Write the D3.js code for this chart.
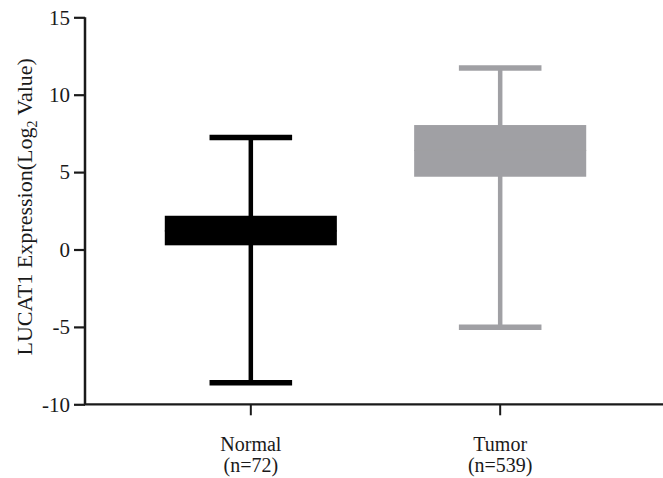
<!DOCTYPE html>
<html>
<head>
<meta charset="utf-8">
<script src="https://cdn.jsdelivr.net/npm/d3@7"></script>
<style>
  html, body { margin: 0; padding: 0; background: #fff; }
  svg { display: block; }
  text { font-family: "Liberation Serif", "Times New Roman", serif; fill: #1a1a1a; }
</style>
</head>
<body>
<svg id="chart" width="663" height="478"></svg>
<script>
const categories = ["Normal", "Tumor"];
const sampleSizes = [72, 539];
const whiskerLow = [-8.6, -5.03];
const quartile1 = [0.27, 4.70];
const medians = [1.2, 6.4];
const quartile3 = [2.18, 8.04];
const whiskerHigh = [7.24, 11.72];
const colors = ["#000000", "#a0a0a4"];
const yTicks = [-10, -5, 0, 5, 10, 15];

const svg = d3.select("#chart");
const axisColor = "#1a1a1a";

const y = d3.scaleLinear().domain([-10, 15]).range([404.3, 17.3]);
const x = d3.scaleBand().domain(categories).range([85, 666]).paddingInner(0.31).paddingOuter(0.32);

const data = categories.map((c, i) => ({
  cat: c, n: sampleSizes[i], lo: whiskerLow[i], q1: quartile1[i],
  med: medians[i], q3: quartile3[i], hi: whiskerHigh[i], color: colors[i]
}));

const bw = x.bandwidth();
const capW = bw * 0.48;

const g = svg.append("g");
const boxes = g.selectAll("g.box").data(data).join("g").attr("class", "box");

// whisker line
boxes.append("line")
  .attr("x1", d => x(d.cat) + bw / 2).attr("x2", d => x(d.cat) + bw / 2)
  .attr("y1", d => y(d.lo)).attr("y2", d => y(d.hi))
  .attr("stroke", d => d.color).attr("stroke-width", 4.5);
// caps
["lo", "hi"].forEach(k => {
  boxes.append("line")
    .attr("x1", d => x(d.cat) + bw / 2 - capW / 2).attr("x2", d => x(d.cat) + bw / 2 + capW / 2)
    .attr("y1", d => y(d[k])).attr("y2", d => y(d[k]))
    .attr("stroke", d => d.color).attr("stroke-width", 5.5);
});
// box
boxes.append("rect")
  .attr("x", d => x(d.cat)).attr("width", bw)
  .attr("y", d => y(d.q3)).attr("height", d => y(d.q1) - y(d.q3))
  .attr("fill", d => d.color);
// median (same color as box)
boxes.append("line")
  .attr("x1", d => x(d.cat)).attr("x2", d => x(d.cat) + bw)
  .attr("y1", d => y(d.med)).attr("y2", d => y(d.med))
  .attr("stroke", d => d.color).attr("stroke-width", 1);

// y axis
const yAxis = svg.append("g").attr("transform", "translate(85,0)")
  .call(d3.axisLeft(y).tickValues(yTicks).tickSize(11).tickPadding(4).tickFormat(d3.format("d")));
yAxis.select(".domain").attr("stroke", axisColor).attr("stroke-width", 2.5).attr("d", `M0,${y(15)}V${y(-10)}`);
yAxis.selectAll(".tick line").attr("stroke", axisColor).attr("stroke-width", 2.2);
yAxis.selectAll(".tick text").attr("font-size", 21).attr("fill", axisColor)
  .style("font-family", '"Liberation Serif", serif').text(d => d < 0 ? "-" + Math.abs(d) : d);

// x axis
const xAxis = svg.append("g").attr("transform", `translate(0,${y(-10)})`)
  .call(d3.axisBottom(x).tickSize(11).tickFormat(""));
xAxis.select(".domain").attr("stroke", axisColor).attr("stroke-width", 2.2).attr("d", "M84,0H663");
xAxis.selectAll(".tick line").attr("stroke", axisColor).attr("stroke-width", 2);
xAxis.selectAll(".tick").each(function(d, i) {
  const t = d3.select(this);
  t.append("text").attr("y", 47).attr("text-anchor", "middle").attr("font-size", 20).attr("fill", axisColor).text(d);
  t.append("text").attr("y", 68).attr("text-anchor", "middle").attr("font-size", 20).attr("fill", axisColor).text("(n=" + sampleSizes[i] + ")");
});

// y label
const yl = svg.append("text")
  .attr("transform", `translate(32,${(y(15) + y(-10)) / 2 - 4}) rotate(-90)`)
  .attr("text-anchor", "middle").attr("font-size", 22).attr("fill", axisColor);
yl.append("tspan").text("LUCAT1 Expression(Log");
yl.append("tspan").attr("font-size", 14).attr("dy", 5).text("2");
yl.append("tspan").attr("dy", -5).text(" Value)");
</script>
</body>
</html>
